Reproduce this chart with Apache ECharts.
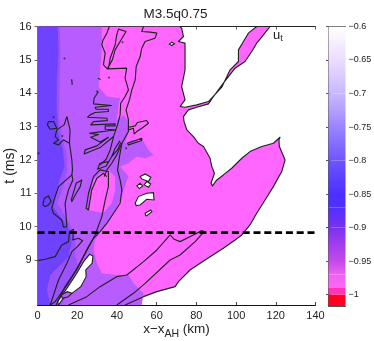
<!DOCTYPE html>
<html><head><meta charset="utf-8">
<style>html,body{margin:0;padding:0;background:#fff}#c{width:374px;height:341px}</style>
<script src="https://cdn.jsdelivr.net/npm/echarts@6/dist/echarts.min.js"></script>
</head><body><div id="c"></div>
<script>
const titleText = 'M3.5q0.75';
const xTicks = [0,20,40,60,80,100,120,140];
const yTicks = [9,10,11,12,13,14,15,16];
const cbTicks = [-1,-0.95,-0.9,-0.85,-0.8,-0.75,-0.7,-0.65,-0.6];
const dashT = 9.82;

const regionPink = [[0,7.65],[44.1,7.65],[53.4,7.9],[60.1,8.05],[69.3,8.2],[71,8.35],[76.8,8.7],[84.4,9],[93.6,9.35],[99.5,9.6],[102.9,9.75],[107,10.05],[110.4,10.4],[114.6,10.8],[118.8,11.2],[123,11.65],[124.7,12],[121.8,12.4],[121.6,12.6],[122.1,12.68],[118.8,12.5],[112.9,12.4],[107,12.25],[102.9,12.05],[97.8,11.75],[93.6,11.55],[90.3,11.4],[88.1,11.22],[87.4,11.3],[89.1,11.6],[87.8,11.8],[86.9,12.05],[83.6,12.4],[81,12.5],[78.5,12.7],[75.2,12.9],[73.8,13.15],[73.5,13.3],[76,13.5],[80.2,13.58],[86.1,13.68],[88.6,13.9],[93.6,14.3],[99.5,14.75],[104.5,14.95],[107.9,15.25],[110.4,15.5],[112.9,15.68],[117.1,16],[110.4,16],[106.2,15.8],[103.7,15.55],[101.2,15.3],[101.2,14.95],[97,14.7],[92.8,14.18],[86.1,13.75],[80.2,13.65],[74.3,13.58],[71.8,13.6],[74.3,13.8],[72.6,14.2],[74.3,14.7],[74.3,15.5],[71,15.55],[73.5,15.7],[72.6,15.95],[71.8,16],[0,16]];
const regionMid2 = [[32.4,16],[32.4,15.5],[32,15],[31.5,14.65],[30.7,14.2],[34.9,13.9],[41.6,13.85],[40.8,13.6],[39.9,13.2],[43.3,13.35],[45.8,13.15],[45.8,12.85],[44.1,12.5],[47.5,12.6],[53.4,12.55],[55.9,12.3],[58.4,12.15],[54.2,12.05],[50,12.1],[45.8,11.9],[41.6,11.8],[45.8,11.5],[44.1,11.25],[42.5,10.9],[39.9,10.6],[36.6,10.2],[32.4,9.9],[29,9.6],[28.2,9.3],[29.9,8.9],[32.4,8.6],[39.9,8.55],[45.8,8.55],[48.3,8.3],[53.4,8],[52.5,7.65],[0,7.65],[0,16]];
const regionMid1 = [[11.2,16],[11.5,15],[11,14],[10.8,13.3],[12,12.8],[14.5,12.2],[15,11.7],[13,11.2],[10,10.7],[16,10.1],[19,9.7],[19,9.1],[21,8.7],[18,8.3],[15,7.95],[12,7.65],[0,7.65],[0,16]];
const regionDark = [[0,16],[10.1,16],[10.6,15.3],[9.7,14.3],[9.7,13.5],[10.6,12.8],[12.8,12.3],[13.6,11.8],[11.1,11.4],[7.7,10.6],[12.8,10.2],[16.1,9.9],[17.3,9.6],[15.6,9.1],[10.6,8.8],[6.4,8.55],[4.7,8.1],[6.4,7.65],[0,7.65]];
const regionHookPink = [[26.5,11],[28.2,11.4],[31.5,11.6],[35.7,11.7],[39.1,11.5],[39.1,11.1],[37.4,10.7],[33.2,10.4],[25.7,10.5]];

const whiteWedge = [[26.2,9.17],[27.9,9.12],[27.5,8.9],[24.3,8.7],[24.5,8.5],[21.8,8.2],[17.3,8],[13.1,7.87],[10.6,7.65],[10.1,7.75],[14.8,8.15],[19.8,8.6],[23.2,8.95]];
const wedgeInner = [[12,7.95],[15,8.05],[17.3,8],[15.5,7.9],[12.5,7.85]];
const island1 = [[51.7,11.5],[54.2,11.58],[57.1,11.48],[55.9,11.35],[52.5,11.43]];
const island2 = [[50,11.22],[51.7,11.3],[53,11.22],[51.3,11.14]];
const island3 = [[53.7,11.25],[55,11.35],[57,11.28],[55.9,11.18]];
const island4 = [[49.2,10.7],[50.8,10.9],[55,11],[58.4,11.02],[58.7,10.8],[55,10.82],[51.7,10.65],[49.7,10.63]];
const island5 = [[54.2,10.4],[57,10.5],[57.6,10.45],[55,10.32],[54.5,10.33]];
const island6 = [[66.4,15.47],[67.6,15.53],[69,15.48],[67.6,15.43]];

const lineA = [[36.2,16],[34.9,15.8],[32.9,15.58],[32.4,15.45],[34.1,15.2],[33.2,14.85],[35.2,14.73],[37.7,15],[39.1,15.3],[41.6,15.55],[44.6,15.85],[40.8,15.92],[39.9,15.75],[39.1,15.45],[36.6,15.05],[35.7,14.73],[44.9,14.75],[44.1,14.45],[45.8,14.1],[44.1,13.9],[41.9,13.7],[41.6,13.35],[40.3,13.05]];
const lineB = [[53.4,16],[52.5,15.85],[56.7,15.83],[60.1,15.8],[59.2,15.65],[54.2,15.55],[52.5,15.35],[51.7,15.1],[49.7,14.8],[49.2,14.4],[47.5,14.1],[46.3,13.8],[44.6,13.5],[45.8,13.2],[45.8,12.85],[42.5,12.5],[39.9,12.15],[37.4,11.9],[34.9,11.7],[33.6,11.5]];
const lineD = [[42.5,12.5],[41.3,12.1],[40.3,11.7],[41.6,11.4],[42.5,11.1],[41.6,10.7],[38.3,10.4],[34.9,10.1],[31.5,9.85],[28.2,9.65],[25.2,9.35],[20.6,8.8],[14.8,8.25],[8.9,7.75],[6.4,7.65]];
const lineE = [[9.4,7.65],[13.9,8.2],[19,8.65],[24.5,9.25],[29,9.75],[32.4,10.3],[34.1,10.8],[35.7,11.2],[35.7,11.65],[31.5,11.7],[28.2,11.5],[25.7,11],[24.5,10.55],[25.7,10.5],[27.3,11.1],[29.9,11.45],[33.2,11.6],[34.9,11.5]];
const lineF = [[0,8.98],[3.9,9.02],[8.9,9.1],[12.2,9.45],[15.6,9.55],[16.1,9.85],[18.1,9.92],[17.8,9.6],[20.6,9.65],[22.7,9.58],[20.1,9.4],[17.3,9.25],[14.8,8.9],[10.6,8.4],[6.4,7.65]];
const lineG = [[15.6,7.65],[24.8,7.9],[31.5,8.2],[39.9,8.5],[45,8.55],[53.4,8.95],[60.1,9.3],[66.8,9.75],[68.8,9.62],[71.8,9.55],[78.5,9.75],[82.7,9.88],[83.9,9.85],[79.4,9.55],[71.8,9.15],[66.8,9],[54.2,8.3],[48.3,8],[39.9,7.65]];
const lineH2 = [[7.2,10.55],[8.9,10.9],[10.6,11.2],[17.3,11.55],[17.8,11.4],[15.6,11.1],[13.9,10.7],[14.8,10],[13.1,9.98],[12.2,10.2],[8,10.4],[7.2,10.55]];
const lineH3 = [[14.8,13.3],[16.4,12.9],[16.1,12.5],[17.3,12],[17.6,11.7],[17.3,11.55]];
const lineH3b = [[14.8,13.3],[13.4,13.05],[9.7,12.9],[8.9,12.7],[10.6,12.6],[8.1,12.5],[10.6,12.45],[13.1,12.6],[16.1,12.5]];
const blobH1 = [[2.7,10.65],[3.4,10.85],[5.5,10.92],[6.9,10.75],[5.5,10.65],[3.9,10.6],[2.7,10.65]];
const blobH4 = [[5.5,13.15],[8.1,13.15],[9.7,12.95],[6.4,12.92],[5,13.05],[5.5,13.15]];
const sliverH5 = [[17,10.8],[18.5,11.1],[19.5,11.3],[22.3,11.4],[21.5,11.2],[19,10.95],[17.3,10.75],[17,10.8]];
const fingers = [[30.7,14.05],[28.5,13.85],[28.2,13.68],[37.4,13.63],[29,13.58],[29.5,13.52],[35.7,13.52],[35.7,13.45],[29,13.42],[26.5,13.35],[25.2,13.28],[34.9,13.25],[35.2,13.18],[28.2,13.15],[26.8,13.05],[39.1,13.08],[39.1,13.02],[34.1,13.02],[34.1,12.92],[39.1,12.9],[34.1,12.86],[31.5,12.84],[26.2,12.8],[30.7,12.76],[26.8,12.68],[31.5,12.54],[35.7,12.68],[29.9,12.42],[24,12.3],[23.5,12.18],[31.5,12.37],[38.3,12.7],[40.3,13.05]];
const chain1 = [[41.6,12.58],[39.1,12.35],[37.4,12.1],[40.3,12.3],[42,12.52]];
const chain2 = [[35.7,11.95],[31.5,11.9],[30.2,11.72],[34.6,11.82],[37.4,12.1]];
const chain3 = [[38.3,12.7],[36.6,12.3],[34.6,12.02],[31.5,11.85]];
const rightFeature = [[45.8,12.98],[49.2,13.02],[50.3,13.12],[55,13.18],[55.9,13.1],[52.5,12.95],[50,12.85],[48.7,12.78],[48.3,12.95],[45.8,12.9]];
const sliver2 = [[45.3,12.5],[52.5,12.65],[52.5,12.58],[45.8,12.45],[45.3,12.5]];
const tick1 = [[17.2,14.42],[17.5,14.25]];
const blob2 = [[30.4,14.45],[31.2,14.5],[31.6,14.42],[30.8,14.38],[30.4,14.45]];
const dots = [[36,14.47],[13.6,15.04],[42.8,15.53],[8.1,13.28],[0.5,12.2],[44.6,12.35],[12.5,12.72],[30,14.05]];

const cbStops = [[-1.017,'#ff0022'],[-1,'#ff0022'],[-1,'#ff33bb'],[-0.99,'#ff33bb'],[-0.99,'#ff66f5'],[-0.97,'#f060f5'],[-0.95,'#c24ae8'],[-0.92,'#9a3bee'],[-0.9,'#7733f0'],[-0.87,'#5030ff'],[-0.85,'#4c30ff'],[-0.82,'#5f45ff'],[-0.8,'#6f55ff'],[-0.75,'#9a84ff'],[-0.72,'#b8a4ff'],[-0.7,'#c8b8ff'],[-0.65,'#ecdcff'],[-0.6,'#ffffff']];

const xName = '{a|x\u2212x}{s|AH}{a| (km)}';

const polySeries = (pts, fill, stroke) => ({
  type:'custom', coordinateSystem:'cartesian2d', xAxisIndex:0, yAxisIndex:0, clip:true, silent:true,
  data: pts, encode:{x:0,y:1},
  renderItem:(p, api) => p.dataIndex!==0 ? null : ({
    type:'polygon', shape:{points: pts.map(q=>api.coord(q))},
    style:{fill, stroke: stroke||'none', lineWidth: stroke?1.1:0}
  })
});
const lineSeries = (pts, w, dash) => ({
  type:'line', xAxisIndex:0, yAxisIndex:0, data:pts, showSymbol:false, clip:true, silent:true,
  lineStyle:{color: dash?'#000':'#222', width:w||1.15, type: dash||'solid', cap:'butt', join:'round'}, z:5
});
const closed = a => a.concat([a[0]]);
const colors = {pink:'#ff66ff', mid2:'#b85cff', mid1:'#9a52ff', dark:'#6f42ff'};

const cbSeries = {
  type:'custom', coordinateSystem:'cartesian2d', xAxisIndex:2, yAxisIndex:2, silent:true, clip:true,
  data: cbStops.slice(0,-1).map((s,i)=>[0,s[0],cbStops[i+1][0]]), encode:{x:0,y:[1,2]},
  renderItem:(p, api)=>{
    const a=api.coord([0,api.value(1)]), b=api.coord([1,api.value(2)]);
    const i=p.dataIndex;
    return {type:'rect', shape:{x:a[0],y:b[1],width:b[0]-a[0],height:a[1]-b[1]},
      style:{fill:new echarts.graphic.LinearGradient(0,1,0,0,[{offset:0,color:cbStops[i][1]},{offset:1,color:cbStops[i+1][1]}])}};
  }
};

const font='"Liberation Sans", Arial, sans-serif';
const chart = echarts.init(document.getElementById('c'),null,{renderer:'canvas'});
const G1={left:37.5,right:58.5,top:26.5,bottom:36,outerBoundsMode:'none',containLabel:false};
const G2={left:328.5,width:17,top:26.5,bottom:35,outerBoundsMode:'none',containLabel:false};
const lab={fontFamily:font,fontSize:11,color:'#222'};
chart.setOption({
  animation:false, backgroundColor:'#fff',
  title:{text:titleText,left:170.5,top:2,textAlign:'center',textStyle:{fontFamily:font,fontSize:13.5,fontWeight:'normal',color:'#222'}},
  grid:[G1,G2],
  xAxis:[
    {type:'value',gridIndex:0,min:0,max:140,interval:20,position:'bottom',splitLine:{show:false},
     axisLine:{lineStyle:{color:'#111',width:1}},axisTick:{inside:true,length:3,lineStyle:{color:'#444'},customValues:xTicks},
     axisLabel:{...lab,margin:5,customValues:xTicks,showMinLabel:true,showMaxLabel:true},
     name:xName,nameLocation:'middle',nameGap:14,nameMoveOverlap:false,
     nameTextStyle:{rich:{a:{fontFamily:font,fontSize:13.5,color:'#222'},s:{fontFamily:font,fontSize:10.5,color:'#222',padding:[10,0,0,0]}}}},
    {type:'value',gridIndex:0,min:0,max:140,interval:20,position:'top',splitLine:{show:false},
     axisLine:{lineStyle:{color:'#222',width:1}},axisTick:{inside:true,length:3,lineStyle:{color:'#666'}},axisLabel:{show:false}},
    {type:'value',gridIndex:1,min:0,max:1,position:'bottom',show:true,splitLine:{show:false},axisLine:{lineStyle:{color:'#555'}},axisTick:{show:false},axisLabel:{show:false}},
    {type:'value',gridIndex:1,min:0,max:1,position:'top',show:true,splitLine:{show:false},axisLine:{lineStyle:{color:'#555'}},axisTick:{show:false},axisLabel:{show:false}}
  ],
  yAxis:[
    {type:'value',gridIndex:0,min:7.65,max:16,position:'left',splitLine:{show:false},
     axisLine:{lineStyle:{color:'#111',width:1}},axisTick:{inside:true,length:3,lineStyle:{color:'#444'},customValues:yTicks},
     axisLabel:{...lab,margin:6,customValues:yTicks,showMinLabel:true,showMaxLabel:true},
     name:'t (ms)',nameLocation:'middle',nameGap:20,nameMoveOverlap:false,nameTextStyle:{fontFamily:font,fontSize:14,color:'#222'}},
    {type:'value',gridIndex:0,min:7.65,max:16,position:'right',splitLine:{show:false},
     axisLine:{lineStyle:{color:'#666',width:1}},axisTick:{inside:true,length:3,lineStyle:{color:'#666'},customValues:yTicks},axisLabel:{show:false}},
    {type:'value',gridIndex:1,min:-1.017,max:-0.6,position:'right',splitLine:{show:false},
     axisLine:{lineStyle:{color:'#555',width:1}},axisTick:{inside:true,length:2.5,lineStyle:{color:'#555'},customValues:cbTicks},
     axisLabel:{fontFamily:font,fontSize:9,color:'#222',margin:3,customValues:cbTicks,formatter:v=>'\u2212'+String(Math.abs(+v.toFixed(2)))}},
    {type:'value',gridIndex:1,min:-1.017,max:-0.6,position:'left',splitLine:{show:false},
     axisLine:{lineStyle:{color:'#555',width:1}},axisTick:{inside:true,length:2.5,lineStyle:{color:'#555'},customValues:cbTicks},axisLabel:{show:false}}
  ],
  graphic:[{type:'text',left:273,top:29,style:{rich:{u:{fontFamily:font,fontSize:13,fill:'#222'},t:{fontFamily:font,fontSize:9,fill:'#222',padding:[7,0,0,0]}},text:'{u|u}{t|t}'},z:50}],
  series:[
    polySeries(regionPink,colors.pink),
    polySeries(regionMid2,colors.mid2),
    polySeries(regionHookPink,colors.pink),
    polySeries(regionMid1,colors.mid1),
    polySeries(regionDark,colors.dark),
    polySeries(whiteWedge,'#fff','#222'),
    polySeries(wedgeInner,colors.mid2,'#222'),
    polySeries(island1,'#fff','#222'),polySeries(island2,'#fff','#222'),polySeries(island3,'#fff','#222'),
    polySeries(island4,'#fff','#222'),polySeries(island5,'#fff','#222'),polySeries(island6,'#fff','#222'),
    lineSeries(regionPink.slice(1,-1)),
    lineSeries(lineA),lineSeries(lineB),lineSeries(lineD),lineSeries(lineE),lineSeries(lineF),lineSeries(lineG),
    lineSeries(lineH2),lineSeries(lineH3),lineSeries(lineH3b),lineSeries(blobH1),lineSeries(blobH4),lineSeries(sliverH5),
    lineSeries(fingers),lineSeries(chain1),lineSeries(chain2),lineSeries(chain3),
    lineSeries(closed(rightFeature)),lineSeries(sliver2),lineSeries(tick1),lineSeries(blob2),
    {type:'scatter',xAxisIndex:0,yAxisIndex:0,data:dots,symbolSize:2,itemStyle:{color:'#222'},silent:true,z:5},
    lineSeries([[0,dashT],[140,dashT]],2.6,[7,3.8]),
    cbSeries
  ]
});
</script></body></html>
